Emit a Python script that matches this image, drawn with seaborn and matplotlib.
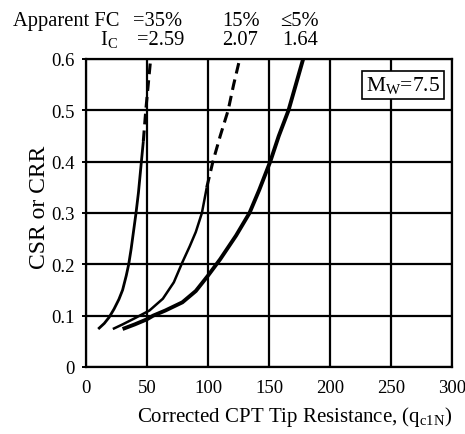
import matplotlib
matplotlib.use("Agg")
import matplotlib.pyplot as plt
import seaborn as sns
import pandas as pd

# ---- data ----
c1_solid_x = [10, 15, 19, 23, 27, 30, 33, 35, 37, 39, 41, 43, 45, 47]
c1_solid_y = [0.074, 0.085, 0.097, 0.113, 0.132, 0.150, 0.178, 0.200, 0.230, 0.265, 0.300, 0.340, 0.390, 0.440]
c1_dash_x = [47, 49, 51, 53]
c1_dash_y = [0.44, 0.50, 0.55, 0.60]

c2_solid_x = [22, 30, 40, 52, 63, 72, 79, 85, 90, 95, 99]
c2_solid_y = [0.074, 0.083, 0.095, 0.110, 0.133, 0.165, 0.204, 0.235, 0.263, 0.300, 0.350]
c2_dash_x = [99, 104, 110, 116.5, 121, 126]
c2_dash_y = [0.35, 0.40, 0.45, 0.50, 0.55, 0.60]

c3_x = [30, 40, 50, 55, 65, 79, 90, 100, 110, 123, 134, 142, 151, 158, 166, 172, 178]
c3_y = [0.074, 0.083, 0.093, 0.100, 0.110, 0.126, 0.148, 0.178, 0.210, 0.256, 0.300, 0.345, 0.400, 0.450, 0.500, 0.550, 0.600]

x_ticks = [0, 50, 100, 150, 200, 250, 300]
x_tick_labels = ["0", "50", "100", "150", "200", "250", "300"]
y_ticks = [0, 0.1, 0.2, 0.3, 0.4, 0.5, 0.6]
y_tick_labels = ["0", "0.1", "0.2", "0.3", "0.4", "0.5", "0.6"]

hdr1 = ["Apparent FC", "=35%", "15%", "\u22645%"]
hdr2 = [r"I$_{\mathrm{C}}$", "=2.59", "2.07", "1.64"]
mw_label = r"M$_{\mathrm{W}}$=7.5"

# ---- style ----
sns.set_theme(style="white")
plt.rcParams["font.family"] = ["Liberation Serif", "DejaVu Serif"]
plt.rcParams["mathtext.fontset"] = "custom"
plt.rcParams["mathtext.rm"] = "Liberation Serif"
plt.rcParams["mathtext.it"] = "Liberation Serif:italic"

W, H = 465, 435
fig = plt.figure(figsize=(W / 100, H / 100), dpi=100)
ax = fig.add_axes([86 / W, 1 - 368 / H, (452 - 86) / W, (368 - 60) / H])

def draw(xs, ys, lw, dashed=False):
    df = pd.DataFrame({"x": xs, "y": ys})
    sns.lineplot(data=df, x="x", y="y", ax=ax, color="black", lw=lw,
                 sort=False, estimator=None)
    line = ax.lines[-1]
    if dashed:
        line.set_dashes([3.5, 2])
    line.set_solid_capstyle("butt")
    line.set_dash_capstyle("butt")
    line.set_solid_joinstyle("round")

draw(c1_solid_x, c1_solid_y, 2.0)
draw(c1_dash_x, c1_dash_y, 2.2, dashed=True)
draw(c2_solid_x, c2_solid_y, 1.8)
draw(c2_dash_x, c2_dash_y, 2.2, dashed=True)
draw(c3_x, c3_y, 2.8)

ax.set_xlim(0, 300)
ax.set_ylim(0, 0.6)
ax.set_xticks(x_ticks)
ax.set_xticklabels(x_tick_labels)
ax.set_yticks(y_ticks)
ax.set_yticklabels(y_tick_labels)
ax.grid(True, color="black", lw=1.6)
ax.set_axisbelow(True)
for s in ax.spines.values():
    s.set_color("black")
    s.set_linewidth(1.6)
    s.set_visible(True)
ax.tick_params(axis="y", length=3, width=1.4, color="black", labelsize=13.5, pad=5, direction="out", left=True)
ax.tick_params(axis="x", length=0, labelsize=13.5, pad=9)
for lab in ax.get_xticklabels() + ax.get_yticklabels():
    lab.set_color("black")

ax.set_xlabel("Corrected CPT Tip Resistance, (q$_{\\mathrm{c1N}}$)", fontsize=15, color="black")
ax.xaxis.set_label_coords((294.5 - 86) / 366, -(405 - 368) / 308)
ax.xaxis.label.set_va("top")
ax.set_ylabel("CSR or CRR", fontsize=17, color="black")
ax.yaxis.set_label_coords((39.5 - 86) / 366, (368 - 207) / 308)
ax.yaxis.label.set_va("center")

ax.text(0.967, 0.95, mw_label, transform=ax.transAxes, ha="right", va="top",
        fontsize=15.5, color="black",
        bbox=dict(boxstyle="square,pad=0.18", fc="white", ec="black", lw=1.2))

# header
for xpix, t in zip([13, 133, 222, 280], hdr1):
    fig.text(xpix / W, 1 - 26 / H, t, fontsize=14.8, color="black", ha="left", va="baseline")
for xpix, t in zip([100, 137, 222, 282], hdr2):
    fig.text(xpix / W, 1 - 45 / H, t, fontsize=14.8, color="black", ha="left", va="baseline")

fig.savefig("out.png", dpi=100, facecolor="white")
